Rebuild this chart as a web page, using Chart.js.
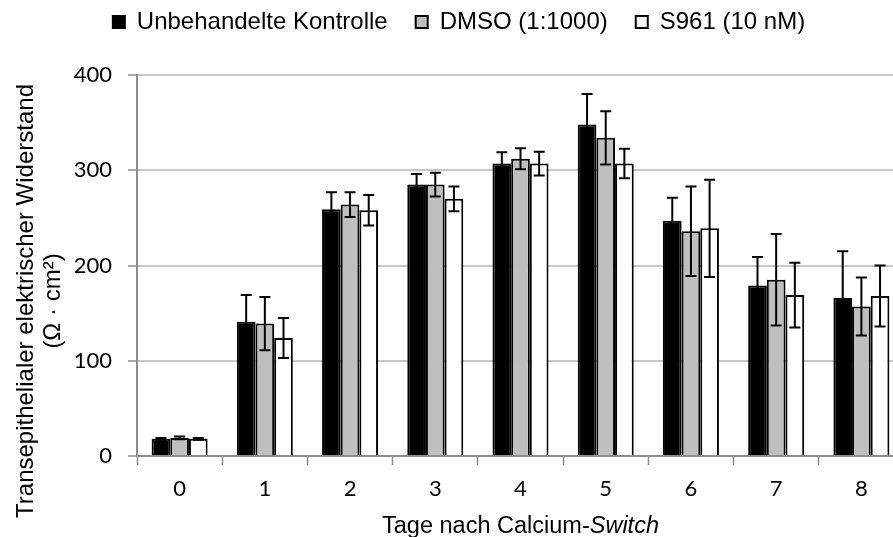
<!DOCTYPE html>
<html>
<head>
<meta charset="utf-8">
<script src="https://cdn.jsdelivr.net/npm/chart.js@4/dist/chart.umd.min.js"></script>
<style>
html,body{margin:0;padding:0;overflow:hidden;background:#fff;}
#wrap{width:904px;height:537px;}
</style>
</head>
<body>
<div id="wrap"><canvas id="c" width="904" height="537"></canvas></div>
<script>
const categories = ['0','1','2','3','4','5','6','7','8'];
const seriesNames = ['Unbehandelte Kontrolle','DMSO (1:1000)','S961 (10 nM)'];
const control    = [18, 141, 259, 285, 307, 348, 247, 179, 166];
const controlErr = [1, 28, 18, 11, 12, 32, 24, 30, 49];
const dmso       = [19, 139, 264, 285, 312, 334, 236, 185, 157];
const dmsoErr    = [1.5, 28, 13, 12.5, 11, 28, 47, 48, 30.5];
const s961       = [18, 124, 258, 270, 307, 307, 239, 169, 168];
const s961Err    = [1, 21, 16, 13, 12.5, 15.5, 51, 34, 32];
const yTitleLines = ['Transepithelialer elektrischer Widerstand', '(Ω · cm²)'];
const xTitleParts = ['Tage nach Calcium-', 'Switch'];

const TITLE_FONT = '"Liberation Sans", Arial, sans-serif';

const errorBars = {
  id: 'errorBars',
  afterDatasetsDraw(chart) {
    const ctx = chart.ctx, y = chart.scales.y;
    chart.data.datasets.forEach((ds, di) => {
      const meta = chart.getDatasetMeta(di);
      meta.data.forEach((bar, i) => {
        const v = ds.data[i], e = ds.errors[i];
        const yt = y.getPixelForValue(v + e), yb = y.getPixelForValue(v - e);
        ctx.save();
        ctx.strokeStyle = '#000';
        ctx.lineWidth = 2;
        ctx.beginPath();
        ctx.moveTo(bar.x, yt); ctx.lineTo(bar.x, yb);
        ctx.moveTo(bar.x - 5.5, yt); ctx.lineTo(bar.x + 5.5, yt);
        ctx.moveTo(bar.x - 5.5, yb); ctx.lineTo(bar.x + 5.5, yb);
        ctx.stroke();
        ctx.restore();
      });
    });
  }
};

const axisTitles = {
  id: 'axisTitles',
  afterDraw(chart) {
    const ctx = chart.ctx, a = chart.chartArea;
    ctx.save();
    ctx.fillStyle = '#000';
    ctx.textBaseline = 'alphabetic';
    ctx.textAlign = 'left';
    ctx.font = '23.5px ' + TITLE_FONT;
    const w1 = ctx.measureText(xTitleParts[0]).width;
    ctx.font = 'italic 23.5px ' + TITLE_FONT;
    const w2 = ctx.measureText(xTitleParts[1]).width;
    const x0 = (a.left + a.right) / 2 - (w1 + w2) / 2;
    ctx.font = '23.5px ' + TITLE_FONT;
    ctx.fillText(xTitleParts[0], x0, 533);
    ctx.font = 'italic 23.5px ' + TITLE_FONT;
    ctx.fillText(xTitleParts[1], x0 + w1, 533);
    ctx.font = '24px ' + TITLE_FONT;
    ctx.textAlign = 'center';
    ctx.translate(0, 301);
    ctx.rotate(-Math.PI / 2);
    ctx.fillText(yTitleLines[0], 0, 33);
    ctx.fillText(yTitleLines[1], 0, 60);
    ctx.restore();
  }
};

const legendPlace = {
  id: 'legendPlace',
  afterLayout(chart) {
    const l = chart.legend;
    if (!l) return;
    l.top -= 31; l.bottom -= 31;
    l.left += 7; l.right += 7;
  }
};

new Chart(document.getElementById('c'), {
  type: 'bar',
  data: {
    labels: categories,
    datasets: [
      {label: seriesNames[0], data: control, errors: controlErr, backgroundColor: '#000000', borderColor: '#000000', borderWidth: 2},
      {label: seriesNames[1], data: dmso, errors: dmsoErr, backgroundColor: '#bfbfbf', borderColor: '#000000', borderWidth: 2},
      {label: seriesNames[2], data: s961, errors: s961Err, backgroundColor: '#ffffff', borderColor: '#000000', borderWidth: 2}
    ]
  },
  options: {
    responsive: false,
    animation: false,
    devicePixelRatio: 1,
    layout: {padding: {top: 13, left: 0, right: 0, bottom: 0}},
    datasets: {bar: {categoryPercentage: 0.657, barPercentage: 1}},
    plugins: {
      legend: {
        position: 'top',
        labels: {boxWidth: 12, boxHeight: 12, padding: 28, color: '#000', font: {family: 'Liberation Sans', size: 24}}
      },
      tooltip: {enabled: false}
    },
    scales: {
      x: {
        ticks: {padding: 11, color: '#000', font: {family: 'Lato', size: 22}},
        grid: {drawOnChartArea: false, tickLength: 9, tickColor: '#8c8c8c', tickWidth: 1.5, offset: true},
        border: {color: '#8c8c8c', width: 2},
        afterFit(s) { s.height = 81; }
      },
      y: {
        min: 0, max: 400,
        ticks: {stepSize: 100, padding: 16, color: '#000', font: {family: 'Lato', size: 22}},
        grid: {
          color: c => (c.tick && c.tick.value === 0) ? '#8c8c8c' : '#c8c8c8',
          lineWidth: 2, tickLength: 9, tickColor: '#8c8c8c', tickWidth: 1.5
        },
        border: {color: '#8c8c8c', width: 2},
        afterFit(s) { s.width = 137; }
      }
    }
  },
  plugins: [errorBars, axisTitles, legendPlace]
});
</script>
</body>
</html>
